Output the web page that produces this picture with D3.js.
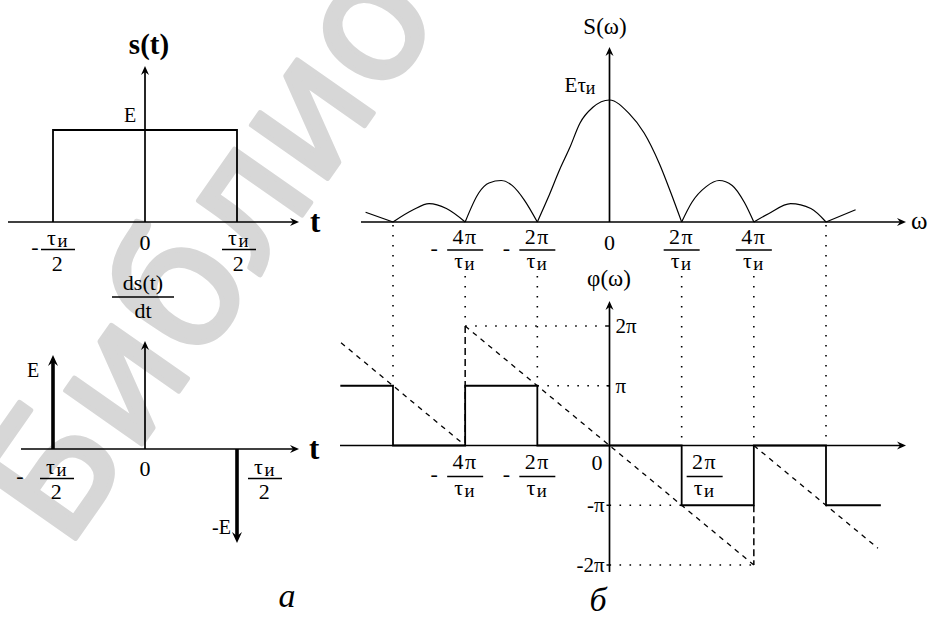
<!doctype html>
<html>
<head>
<meta charset="UTF-8">
<title>Спектр прямоугольного импульса</title>
<script src="https://d3js.org/d3.v7.min.js"></script>
<style>
body { margin: 0; background: #fff; }
svg { display: block; }
.axis { stroke: #000; stroke-width: 1.7; fill: none; }
.solid { stroke: #000; stroke-width: 1.8; fill: none; }
.curve { stroke: #000; stroke-width: 1.2; fill: none; }
.dots { stroke: #000; stroke-width: 1.6; stroke-dasharray: 1.6 8.4; fill: none; }
.dash { stroke: #000; stroke-width: 1.3; stroke-dasharray: 5 5; fill: none; }
.vdash { stroke: #000; stroke-width: 1.5; stroke-dasharray: 7 4; fill: none; }
.head { fill: #000; stroke: none; }
</style>
</head>
<body>
<svg id="chart" width="929" height="619"></svg>
<script>
// ---------- data ----------
// rectangular pulse s(t); t in units of tau/2, s in units of E
var pulse = [[-1, 0], [-1, 1], [1, 1], [1, 0]];
// derivative ds/dt: delta impulses at the edges
var impulses = [[-1, 1], [1, -1]];
// |S(w)|; w in units of 2pi/tau, S in units of E*tau
var spectrum = [
  [-3.38, 0.08], [-3, 0],
  [-2.72, 0.10], [-2.5, 0.15], [-2.26, 0.11], [-2, 0],
  [-1.81, 0.24], [-1.67, 0.32], [-1.5, 0.34], [-1.35, 0.30], [-1.18, 0.18], [-1, 0],
  [-0.85, 0.20], [-0.69, 0.43], [-0.55, 0.61], [-0.41, 0.81], [-0.23, 0.94], [0, 1],
  [0.27, 0.89], [0.48, 0.73], [0.69, 0.48], [0.85, 0.24], [1, 0],
  [1.14, 0.16], [1.34, 0.29], [1.52, 0.34], [1.70, 0.30], [1.87, 0.16], [2, 0],
  [2.21, 0.07], [2.51, 0.15], [2.79, 0.11], [3, 0],
  [3.41, 0.10]
];
// phase phi(w) in units of pi
var phaseSteps = [[-3.73, 1], [-3, 1], [-3, 0], [-2, 0], [-2, 1], [-1, 1], [-1, 0],
  [1, 0], [1, -1], [2, -1], [2, 0], [3, 0], [3, -1], [3.76, -1]];
// linear phase -w*tau/2 (dashed), in pieces
var linearPhase = [[[-3.72, 1.72], [-2, 0]], [[-2, 2], [2, -2]], [[2, 0], [3.72, -1.72]]];
var phaseJumps = [[-2, 2, 0], [2, -1, -2]];
// dotted guides
var levelGuides = [[2, -2, 0], [1, -1, 0], [-1, 0, 1], [-2, 0, 2]];
var zeroGuides = [[-3, 1], [-2, 2], [-1, 1], [1, 0], [2, 0], [3, 0]];
// tick labels
var tTicks = [[-1, "τи", "2"], [1, "τи", "2"]];
var wTicks = [[-2, "4π", "τи"], [-1, "2π", "τи"], [1, "2π", "τи"], [2, "4π", "τи"]];
var phiTicks = [[2, "2π"], [1, "π"], [-1, "-π"], [-2, "-2π"]];

var svg = d3.select("#chart");
// a single family name: the renderer here does not like fallback lists
var SERIF = "'Liberation Serif'";

// watermark behind everything
svg.append("text")
  .attr("transform", "translate(66,552) rotate(-55)")
  .style("font-family", "'DejaVu Sans'")
  .style("font-size", "170px")
  .style("fill", "#d7d7d7").style("stroke", "#d7d7d7").style("stroke-width", 5)
  .style("stroke-linejoin", "round")
  .text("Библиотека");

// ---------- scales ----------
var xT = d3.scaleLinear().domain([-1, 1]).range([53, 237]);
var yTop = d3.scaleLinear().domain([0, 1]).range([222, 130]);
var yBot = d3.scaleLinear().domain([-1, 1]).range([543, 355]);
var xW = d3.scaleLinear().domain([-3, 3]).range([393, 826]);
var yAmp = d3.scaleLinear().domain([0, 1]).range([222, 100]);
var yPh = d3.scaleLinear().domain([-2, 2]).range([565, 326]);

// ---------- helpers ----------
function head(x, y, angle, big) {
  var p = big ? "M0,0L-11,-5L-7,0L-11,5Z" : "M0,0L-9,-4L-6,0L-9,4Z";
  svg.append("path").attr("class", "head").attr("d", p)
    .attr("transform", "translate(" + x + "," + y + ") rotate(" + angle + ")");
}
function hAxis(x0, x1, y) {
  svg.append("line").attr("class", "axis")
    .attr("x1", x0).attr("y1", y).attr("x2", x1 - 3).attr("y2", y);
  head(x1, y, 0);
}
function vAxis(x, y0, y1) {
  svg.append("line").attr("class", "axis")
    .attr("x1", x).attr("y1", y0).attr("x2", x).attr("y2", y1 + 3);
  head(x, y1, -90);
}
// text where the letter "и" is set a little smaller and lower
function label(x, y, str, size, anchor, extra) {
  extra = extra || {};
  var t = svg.append("text")
    .attr("x", x).attr("y", y)
    .attr("text-anchor", anchor || "middle")
    .style("font-family", SERIF)
    .style("font-size", size + "px")
    .style("fill", "#000");
  if (extra.weight) t.style("font-weight", extra.weight);
  if (extra.style) t.style("font-style", extra.style);
  if (extra.spacing) t.style("letter-spacing", extra.spacing);
  str.split("").forEach(function(c) {
    var s = t.append("tspan").text(c);
    if (c === "и") s.style("font-size", (size * 0.85) + "px").attr("dy", size * 0.08);
  });
  return t;
}
function fraction(x, yNum, yLine, yDen, num, den, size, half) {
  label(x, yNum, num, size, "middle", {spacing: "1.5px"});
  svg.append("line").attr("stroke", "#000").attr("stroke-width", 1.3)
    .attr("x1", x - half).attr("x2", x + half).attr("y1", yLine).attr("y2", yLine);
  label(x, yDen, den, size, "middle", {spacing: "1.5px"});
}

var line = d3.line();

// ---------- a: s(t) ----------
hAxis(8, 299, yTop(0));
vAxis(xT(0), yTop(0), 66);
svg.append("path").attr("class", "solid").attr("stroke-width", 1.6)
  .attr("d", line(pulse.map(function(d) { return [xT(d[0]), yTop(d[1])]; })));
label(149, 54, "s(t)", 29, "middle", {weight: "bold"});
label(310, 232, "t", 31, "start", {weight: "bold"});
label(130, 122, "E", 20);
label(xT(0), 250, "0", 22);
tTicks.forEach(function(d) {
  var cx = xT(d[0]) + (d[0] < 0 ? 5 : 2);
  fraction(cx, 245, 249.5, 271, d[1], d[2], 22, 17);
  if (d[0] < 0) label(cx - 23, 254, "-", 22);
});

// ---------- a: ds/dt ----------
hAxis(21, 299, yBot(0));
vAxis(xT(0), yBot(0), 341);
impulses.forEach(function(d) {
  var x = xT(d[0]), y1 = yBot(d[1]);
  svg.append("line").attr("stroke", "#000").attr("stroke-width", 3.6)
    .attr("x1", x).attr("x2", x).attr("y1", yBot(0)).attr("y2", y1 + (d[1] > 0 ? 5 : -5));
  head(x, y1, d[1] > 0 ? -90 : 90, true);
});
label(143, 290, "ds(t)", 22);
svg.append("line").attr("stroke", "#000").attr("stroke-width", 1.4)
  .attr("x1", 112).attr("x2", 174).attr("y1", 297).attr("y2", 297);
label(143, 318, "dt", 22);
label(309, 459, "t", 31, "start", {weight: "bold"});
label(33, 377, "E", 20);
label(231, 534, "-E", 20, "end");
label(xT(0), 476, "0", 22);
fraction(57, 474, 478.5, 499, "τи", "2", 22, 17);
label(20, 483, "-", 22);
fraction(265, 474, 478.5, 499, "τи", "2", 22, 17);
label(287, 607, "а", 34, "middle", {style: "italic"});

// ---------- б: |S(w)| ----------
// dotted guides first so that axes lie over them
zeroGuides.forEach(function(d) {
  var top = Math.abs(d[0]) === 3 ? yAmp(0) + 3 : 276;
  svg.append("line").attr("class", "dots")
    .attr("x1", xW(d[0])).attr("x2", xW(d[0])).attr("y1", top).attr("y2", yPh(d[1]));
});
levelGuides.forEach(function(d) {
  svg.append("line").attr("class", "dots")
    .attr("x1", xW(d[1])).attr("x2", xW(d[2])).attr("y1", yPh(d[0])).attr("y2", yPh(d[0]));
});

hAxis(361, 906, yAmp(0));
vAxis(xW(0), yAmp(0), 47);

// split the curve into lobes at its zeros
var lobes = [], cur = [];
spectrum.forEach(function(p) {
  cur.push(p);
  if (p[1] === 0 && cur.length > 1) { lobes.push(cur); cur = [p]; }
});
if (cur.length > 1) lobes.push(cur);
var ampLine = d3.line()
  .x(function(d) { return xW(d[0]); })
  .y(function(d) { return yAmp(d[1]); })
  .curve(d3.curveMonotoneX);
svg.selectAll("path.lobe").data(lobes).enter().append("path")
  .attr("class", "curve lobe").attr("d", ampLine);

label(605, 34, "S(ω)", 23);
label(580, 92, "Eτи", 21);
label(xW(0), 250, "0", 22);
label(911, 229, "ω", 25, "start");
wTicks.forEach(function(d) {
  var cx = xW(d[0]);
  fraction(cx, 244, 250, 268, d[1], d[2], 22, 18);
  if (d[0] < 0) label(cx - 31, 255, "-", 22);
});

// ---------- б: phi(w) ----------
hAxis(340, 906, yPh(0));
vAxis(xW(0), 572, 301);
phiTicks.forEach(function(d) {
  svg.append("line").attr("stroke", "#000").attr("stroke-width", 1.4)
    .attr("x1", xW(0) - 3).attr("x2", xW(0)).attr("y1", yPh(d[0])).attr("y2", yPh(d[0]));
  if (d[0] > 0) label(xW(0) + 6, yPh(d[0]) + 7, d[1], 21, "start");
  else label(xW(0) - 5, yPh(d[0]) + 7, d[1], 21, "end");
});

linearPhase.forEach(function(seg) {
  svg.append("path").attr("class", "dash")
    .attr("d", line(seg.map(function(d) { return [xW(d[0]), yPh(d[1])]; })));
});
phaseJumps.forEach(function(d) {
  svg.append("line").attr("class", "vdash")
    .attr("x1", xW(d[0])).attr("x2", xW(d[0])).attr("y1", yPh(d[1])).attr("y2", yPh(d[2]));
});
svg.append("path").attr("class", "solid")
  .attr("d", line(phaseSteps.map(function(d) { return [xW(d[0]), yPh(d[1])]; })));

label(609, 286, "φ(ω)", 23);
label(597, 470, "0", 22);
wTicks.forEach(function(d) {
  if (d[0] > 1) return;
  var cx = d[0] < 0 ? xW(d[0]) : xW(d[0]) + 23;
  fraction(cx, 469, 476.5, 495, d[1], d[2], 22, 18);
  if (d[0] < 0) label(cx - 31, 481, "-", 22);
});
label(598, 611, "б", 34, "middle", {style: "italic"});
</script>
</body>
</html>
